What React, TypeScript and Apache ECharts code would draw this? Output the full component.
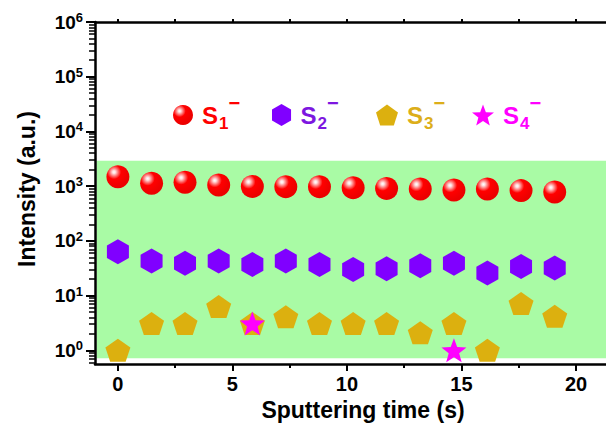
import React, { useEffect, useRef } from 'react';
import * as echarts from 'echarts';

// ---- data ----
const time = [0, 1.47, 2.93, 4.4, 5.87, 7.33, 8.8, 10.27, 11.73, 13.2, 14.67, 16.13, 17.6, 19.07];
const s1Values = [1490, 1130, 1180, 1050, 990, 980, 980, 940, 910, 890, 850, 890, 830, 780];
const s2Values = [63, 43, 39, 43, 37, 43, 37, 30, 31, 35, 39, 26, 34, 32];
const s3Values = [1, 3.1, 3.1, 6.3, 3.1, 4.1, 3.1, 3.1, 3.1, 2.1, 3.1, 1, 7.2, 4.2];
const s4Time = [5.87, 14.67];
const s4Values = [3.1, 1];
const seriesNames = ['S1', 'S2', 'S3', 'S4'];
const seriesSubs = ['1', '2', '3', '4'];
const xTickValues = [0, 5, 10, 15, 20];
const xMinorTickValues = [2.5, 7.5, 12.5, 17.5];
const xTopTickValues = [0, 2.5, 5, 7.5, 10, 12.5, 15, 17.5, 20];
const yExponents = [0, 1, 2, 3, 4, 5, 6];
const BAND_LOW = 0.72;
const BAND_HIGH = 2920;
const BAND_X_START = -0.93;
const X_MIN = -1;
const X_MAX = 22.4;
const Y_MIN_EXP = -0.25;
const Y_MAX_EXP = 6;

const FONT = "'Liberation Sans', Arial, sans-serif";

const yMinorTicks: number[] = [];
for (let e = -1; e <= 5; e++) {
  for (let k = 2; k <= 9; k++) {
    const v = e + Math.log10(k);
    if (v > Y_MIN_EXP && v < Y_MAX_EXP) yMinorTicks.push(v);
  }
}

const HEX = 'path://M0,-1L0.866,-0.5L0.866,0.5L0,1L-0.866,0.5L-0.866,-0.5Z';
const PENT = 'path://M0,-1L0.951,-0.309L0.588,0.809L-0.588,0.809L-0.951,-0.309Z';
const STAR =
  'path://M0,-1L0.2469,-0.3398L0.9511,-0.309L0.3995,0.1298L0.5878,0.809L0,0.42L-0.5878,0.809L-0.3995,0.1298L-0.9511,-0.309L-0.2469,-0.3398Z';

const sphere = new echarts.graphic.RadialGradient(0.33, 0.3, 0.65, [
  { offset: 0, color: '#ffffff' },
  { offset: 0.1, color: '#ffe0e0' },
  { offset: 0.3, color: '#ff6464' },
  { offset: 0.47, color: '#ff0000' },
  { offset: 1, color: '#ec0000' },
]);

const legendDefs = [
  { left: 173, w: 20, h: 20, text: '#ff0000' },
  { left: 272, w: 20, h: 22, text: '#7d16e0' },
  { left: 376, w: 22, h: 21, text: '#dcae1a' },
  { left: 472, w: 22, h: 21, text: '#ff00ff' },
];

function richFor(color: string) {
  return {
    s: { fontSize: 24, fontWeight: 'bold', color, lineHeight: 40, verticalAlign: 'middle', fontFamily: FONT, padding: [0, 0, 0, 4] },
    sub: { fontSize: 17, fontWeight: 'bold', color, lineHeight: 16, verticalAlign: 'middle', padding: [16, 0, 0, 1], fontFamily: FONT },
    sup: { fontSize: 20, fontWeight: 'bold', color, lineHeight: 16, verticalAlign: 'middle', padding: [0, 0, 24, 0], fontFamily: FONT },
  };
}

function buildOption() {
  const xBase = { type: 'value', min: X_MIN, max: X_MAX, gridIndex: 0, z: 5, splitLine: { show: false } };
  const yBase = { type: 'value', min: Y_MIN_EXP, max: Y_MAX_EXP, gridIndex: 0, z: 5, splitLine: { show: false } };
  return {
    animation: false,
    backgroundColor: '#ffffff',
    grid: { left: 95, right: 9, top: 22, bottom: 64, containLabel: false, outerBoundsMode: 'none' },
    legend: legendDefs.map((d, i) => ({
      data: [seriesNames[i]],
      left: d.left,
      top: 93,
      padding: 0,
      itemWidth: d.w,
      itemHeight: d.h,
      selectedMode: false,
      formatter: `{s|S}{sub|${seriesSubs[i]}}{sup|−}`,
      textStyle: { color: d.text, fontFamily: FONT, rich: richFor(d.text) },
    })),
    xAxis: [
      {
        ...xBase,
        position: 'bottom',
        name: 'Sputtering time (s)',
        nameLocation: 'middle',
        nameGap: 32,
        nameTextStyle: { fontSize: 23, fontWeight: 'bold', color: '#000', fontFamily: FONT },
        axisLine: { show: true, onZero: false, lineStyle: { color: '#000', width: 2.5 } },
        axisTick: { show: true, customValues: xTickValues, length: 7, lineStyle: { color: '#000', width: 2 } },
        axisLabel: {
          show: true,
          customValues: xTickValues,
          margin: 10,
          fontSize: 20,
          fontWeight: 'bold',
          color: '#000',
          fontFamily: FONT,
        },
      },
      {
        ...xBase,
        position: 'bottom',
        axisLine: { show: false, onZero: false },
        axisTick: { show: true, customValues: xMinorTickValues, length: 4, lineStyle: { color: '#000', width: 2 } },
        axisLabel: { show: false },
      },
      {
        ...xBase,
        position: 'top',
        axisLine: { show: true, onZero: false, lineStyle: { color: '#000', width: 2.5 } },
        axisTick: { show: true, customValues: xTopTickValues, length: 3, lineStyle: { color: '#000', width: 2 } },
        axisLabel: { show: false },
      },
    ],
    yAxis: [
      {
        type: 'log',
        logBase: 10,
        min: Math.pow(10, Y_MIN_EXP),
        max: Math.pow(10, Y_MAX_EXP),
        gridIndex: 0,
        show: false,
        axisLine: { onZero: false },
        splitLine: { show: false },
      },
      {
        ...yBase,
        position: 'left',
        name: 'Intensity (a.u.)',
        nameLocation: 'middle',
        nameGap: 57,
        nameTextStyle: { fontSize: 23, fontWeight: 'bold', color: '#000', fontFamily: FONT, padding: [0, 0, 0, 8] },
        axisLine: { show: true, onZero: false, lineStyle: { color: '#000', width: 2.5 } },
        axisTick: { show: true, customValues: yExponents, length: 9, lineStyle: { color: '#000', width: 2 } },
        axisLabel: {
          show: true,
          customValues: yExponents,
          margin: 12,
          color: '#000',
          formatter: (v: number) => `{b|10}{e|${Math.round(v)}}`,
          rich: {
            b: { fontSize: 19, fontWeight: 'bold', color: '#000', fontFamily: FONT, lineHeight: 22, verticalAlign: 'middle' },
            e: { fontSize: 13, fontWeight: 'bold', color: '#000', fontFamily: FONT, lineHeight: 13, verticalAlign: 'middle', padding: [0, 0, 9, 0] },
          },
        },
      },
      {
        ...yBase,
        position: 'left',
        axisLine: { show: false, onZero: false },
        axisTick: { show: true, customValues: yMinorTicks, length: 6, lineStyle: { color: '#000', width: 1.5 } },
        axisLabel: { show: false },
      },
    ],
    series: [
      {
        name: seriesNames[0],
        type: 'scatter',
        xAxisIndex: 0,
        yAxisIndex: 0,
        symbol: 'circle',
        symbolSize: 23,
        itemStyle: { color: sphere, opacity: 1 },
        data: time.map((t, i) => [t, s1Values[i]]),
        markArea: {
          silent: true,
          itemStyle: { color: '#a9fba5', opacity: 1 },
          data: [[{ xAxis: BAND_X_START, yAxis: BAND_LOW }, { xAxis: X_MAX, yAxis: BAND_HIGH }]],
        },
      },
      {
        name: seriesNames[1],
        type: 'scatter',
        xAxisIndex: 0,
        yAxisIndex: 0,
        symbol: HEX,
        symbolSize: [22, 25],
        itemStyle: { color: '#8000ff', opacity: 1 },
        data: time.map((t, i) => [t, s2Values[i]]),
      },
      {
        name: seriesNames[2],
        type: 'scatter',
        xAxisIndex: 0,
        yAxisIndex: 0,
        symbol: PENT,
        symbolSize: [25, 23],
        itemStyle: { color: '#dcb00f', opacity: 1 },
        data: time.map((t, i) => [t, s3Values[i]]),
      },
      {
        name: seriesNames[3],
        type: 'scatter',
        xAxisIndex: 0,
        yAxisIndex: 0,
        symbol: STAR,
        symbolSize: [25, 24],
        itemStyle: { color: '#ff00ff', opacity: 1 },
        data: s4Time.map((t, i) => [t, s4Values[i]]),
      },
    ],
  };
}

export default function App() {
  const ref = useRef<HTMLDivElement>(null);
  useEffect(() => {
    if (!ref.current) return;
    const chart = echarts.init(ref.current, undefined, { renderer: 'svg' });
    chart.setOption(buildOption() as any);
    return () => chart.dispose();
  }, []);
  return (
    <div
      ref={ref}
      style={{ position: 'fixed', left: 0, top: 0, width: 640, height: 428, background: '#ffffff' }}
    />
  );
}
